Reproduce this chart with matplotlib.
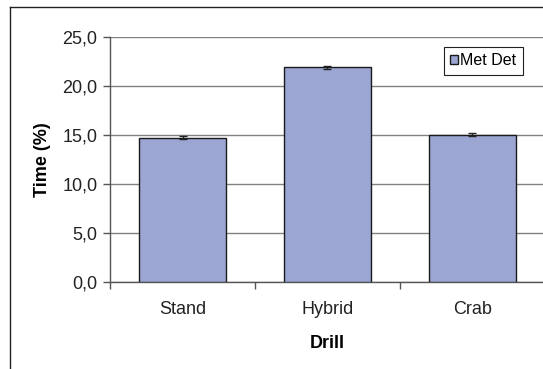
import matplotlib
matplotlib.use("Agg")
import matplotlib.pyplot as plt
from matplotlib.lines import Line2D
from matplotlib.ticker import FuncFormatter

# datos
drills = ["Stand", "Hybrid", "Crab"]
met_det = [14.7, 21.9, 15.0]
met_det_err = [0.15, 0.15, 0.15]
yticks = [0, 5, 10, 15, 20, 25]

plt.rcParams['font.family'] = ['Liberation Sans', 'DejaVu Sans']

fig = plt.figure(figsize=(5.43, 3.69), dpi=100)
ax = fig.add_axes([0.2026, 0.2366, 0.801, 0.664])

x = range(len(drills))
ax.bar(x, met_det, width=0.6, color="#9BA6D3", edgecolor="#1a1a1a",
       linewidth=1.0, label="Met Det", zorder=3)
ax.errorbar(x, met_det, yerr=met_det_err, fmt="none", ecolor="#222222",
            elinewidth=1.0, capsize=3, capthick=1.0, zorder=4)

ax.set_xlim(-0.5, 2.5)
ax.set_ylim(0, 25)
ax.set_yticks(yticks)
ax.yaxis.set_major_formatter(FuncFormatter(lambda v, p: f"{v:.1f}".replace(".", ",")))
ax.yaxis.grid(True, color="#808080", linewidth=1.0, zorder=0)
ax.set_axisbelow(True)

ax.set_xticks(list(x))
ax.set_xticklabels(drills)
ax.set_xticks([-0.5, 0.5, 1.5, 2.5], minor=True)
ax.tick_params(axis="x", which="major", length=0, pad=14, labelsize=13, colors="#222222")
ax.tick_params(axis="x", which="minor", length=5, width=1.0, color="#555555")
ax.tick_params(axis="y", length=5, width=1.0, color="#555555", labelsize=13,
               labelcolor="#222222", pad=4)

for s in ["top", "right"]:
    ax.spines[s].set_visible(False)
for s in ["left", "bottom"]:
    ax.spines[s].set_color("#555555")
    ax.spines[s].set_linewidth(1.0)

ax.set_xlabel("Drill", fontsize=13, fontweight="bold", labelpad=12)
ax.set_ylabel("Time (%)", fontsize=13, fontweight="bold", labelpad=8)

leg = ax.legend(loc="upper left", bbox_to_anchor=(0.768, 0.958), fontsize=11.5,
                fancybox=False, framealpha=1, edgecolor="#222222",
                handlelength=0.45, handleheight=0.45, handletextpad=0.15,
                borderpad=0.4, borderaxespad=0)
leg.get_frame().set_linewidth(0.8)

# marco exterior del grafico
fig.add_artist(Line2D([0.019, 0.019], [0, 0.982], color="#222222", linewidth=1.0))
fig.add_artist(Line2D([0.019, 1.0], [0.982, 0.982], color="#222222", linewidth=1.0))

fig.savefig("out.png", dpi=100)
